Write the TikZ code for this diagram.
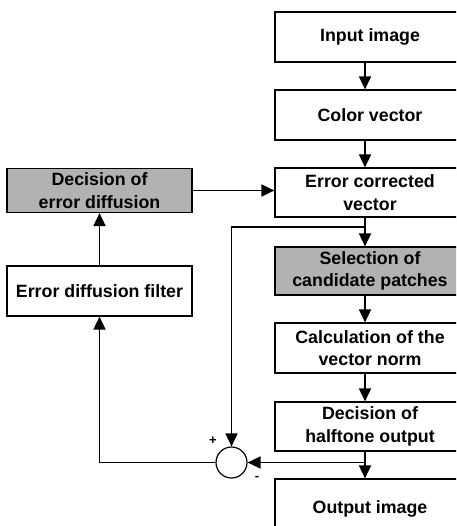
\documentclass[tikz,border=0pt]{standalone}
\usepackage{fontspec}
\setmainfont{Liberation Sans}
\usetikzlibrary{arrows.meta}
\begin{document}
\begin{tikzpicture}[x=1pt,y=-1pt,
  box/.style={draw, line width=1.2pt, minimum width=190pt, align=center,
    font=\fontsize{17.8}{22.5}\selectfont\bfseries, inner sep=0pt},
  lbox/.style={box, minimum width=185pt},
  shaded/.style={fill=black!30},
  arr/.style={line width=1.8pt, -{Triangle[length=13pt,width=12pt]}},
  sumc/.style={draw, line width=1.2pt, circle, minimum size=31pt, inner sep=0pt},
  sign/.style={font=\fontsize{13}{13}\selectfont\bfseries, inner sep=0pt}]
\useasboundingbox (0,0) rectangle (456,526);
\clip (0,0) rectangle (456,526);
\node[box, minimum height=50pt] (in) at (370,37) {Input image};
\node[box, minimum height=50pt] (cv) at (370,115) {Color vector};
\node[box, minimum height=49pt] (ec) at (370,192.5) {Error corrected\\vector};
\node[box, shaded, minimum height=48pt] (sel) at (370,271) {Selection of\\candidate patches};
\node[box, minimum height=50pt] (calc) at (370,348) {Calculation of the\\vector norm};
\node[box, minimum height=49pt] (dec) at (370,426.5) {Decision of\\halftone output};
\node[box, minimum height=60pt] (out) at (370,509) {Output image};
\node[lbox, shaded, minimum height=44pt] (ded) at (99.5,190.5) {Decision of\\error diffusion};
\node[lbox, minimum height=50pt] (filt) at (99.5,291) {Error diffusion filter};
\node[sumc] (sum) at (231.5,462.5) {};
\coordinate (ax) at (365,0);
\coordinate (br) at (365,227);
\coordinate (br2) at (365,462.5);
\node[sign] (plus) at (213,441) {+};
\node[sign] (minus) at (257,478) {-};
\draw[arr] (in.south -| ax) -- (cv.north -| ax);
\draw[arr] (cv.south -| ax) -- (ec.north -| ax);
\draw[arr] (ec.south -| ax) -- (sel.north -| ax);
\draw[arr] (sel.south -| ax) -- (calc.north -| ax);
\draw[arr] (calc.south -| ax) -- (dec.north -| ax);
\draw[arr] (dec.south -| ax) -- (out.north -| ax);
\draw[arr] (ded.east) -- (ded.east -| ec.west);
\draw[arr] (filt.north) -- (ded.south);
\draw[arr] (br) -| (sum.north);
\draw[arr] (br2) -- (sum.east);
\draw[arr] (sum.west) -| (filt.south);
\end{tikzpicture}
\end{document}
